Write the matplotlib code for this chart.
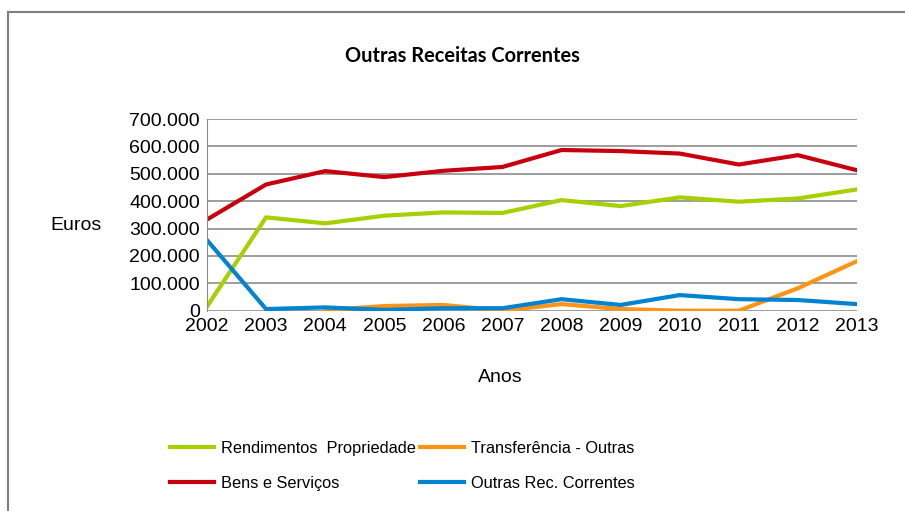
import numpy as np
import matplotlib
matplotlib.use("Agg")
import matplotlib.pyplot as plt
from matplotlib.lines import Line2D
from matplotlib.ticker import FuncFormatter

anos = [2002, 2003, 2004, 2005, 2006, 2007, 2008, 2009, 2010, 2011, 2012, 2013]
rendimentos = [15000, 341000, 319000, 347000, 359000, 357000, 404000, 382000, 414000, 398000, 410000, 443000]
transferencia = [np.nan, np.nan, 2000, 17000, 21000, 0, 24000, 6000, 0, 0, 82000, 181000]
bens_servicos = [333000, 461000, 510000, 488000, 511000, 525000, 587000, 583000, 574000, 534000, 568000, 513000]
outras_rec = [258000, 6000, 12000, 3000, 9000, 9000, 42000, 21000, 57000, 42000, 39000, 24000]

plt.rcParams['font.family'] = ['Liberation Sans', 'DejaVu Sans']

fig = plt.figure(figsize=(9.05, 5.11), dpi=100)
ax = fig.add_axes([0.2287, 0.392, 0.947 - 0.2287, 0.767 - 0.392])

ax.plot(anos, rendimentos, color='#a6d000', lw=3, label='Rendimentos  Propriedade')
ax.plot(anos, transferencia, color='#ff9315', lw=3, label='Transferência - Outras')
ax.plot(anos, bens_servicos, color='#c8000e', lw=3, label='Bens e Serviços')
ax.plot(anos, outras_rec, color='#0083d0', lw=3, label='Outras Rec. Correntes')

ax.set_xlim(2002, 2013)
ax.set_ylim(0, 700000)
ax.set_xticks(anos)
ax.set_yticks(range(0, 700001, 100000))
ax.yaxis.set_major_formatter(FuncFormatter(lambda v, p: '0' if v == 0 else f"{int(v):,}".replace(',', '.')))
ax.grid(axis='y', color='#8c8c8c', lw=1.2)
ax.set_axisbelow(True)
for s in ['top', 'right', 'bottom']:
    ax.spines[s].set_visible(False)
ax.spines['left'].set_color('#8c8c8c')
ax.tick_params(axis='both', length=0, labelsize=14, pad=5)

fig.text(76 / 905, 1 - 226 / 511, 'Euros', fontsize=14, ha='center', va='center')
fig.text(500 / 905, 1 - 378 / 511, 'Anos', fontsize=14, ha='center', va='center')
fig.text(462 / 905, 1 - 56 / 511, 'Outras Receitas Correntes', fontsize=14.4,
         fontweight='bold', family=['Lato', 'DejaVu Sans'], ha='center', va='center')

h, l = ax.get_legend_handles_labels()
order = [0, 2, 1, 3]
fig.legend([h[i] for i in order], [l[i] for i in order], ncol=2, frameon=False,
           loc='center left', bbox_to_anchor=(155 / 905, 1 - 466 / 511),
           fontsize=11.8, handlelength=2.7, handletextpad=0.45,
           columnspacing=0.22, labelspacing=1.2)

fig.add_artist(Line2D([8 / 905, 1], [1 - 12 / 511, 1 - 12 / 511], color='#7f7f7f', lw=1.5))
fig.add_artist(Line2D([8 / 905, 8 / 905], [0, 1 - 12 / 511], color='#7f7f7f', lw=1.5))

fig.savefig('out.png', dpi=100)
